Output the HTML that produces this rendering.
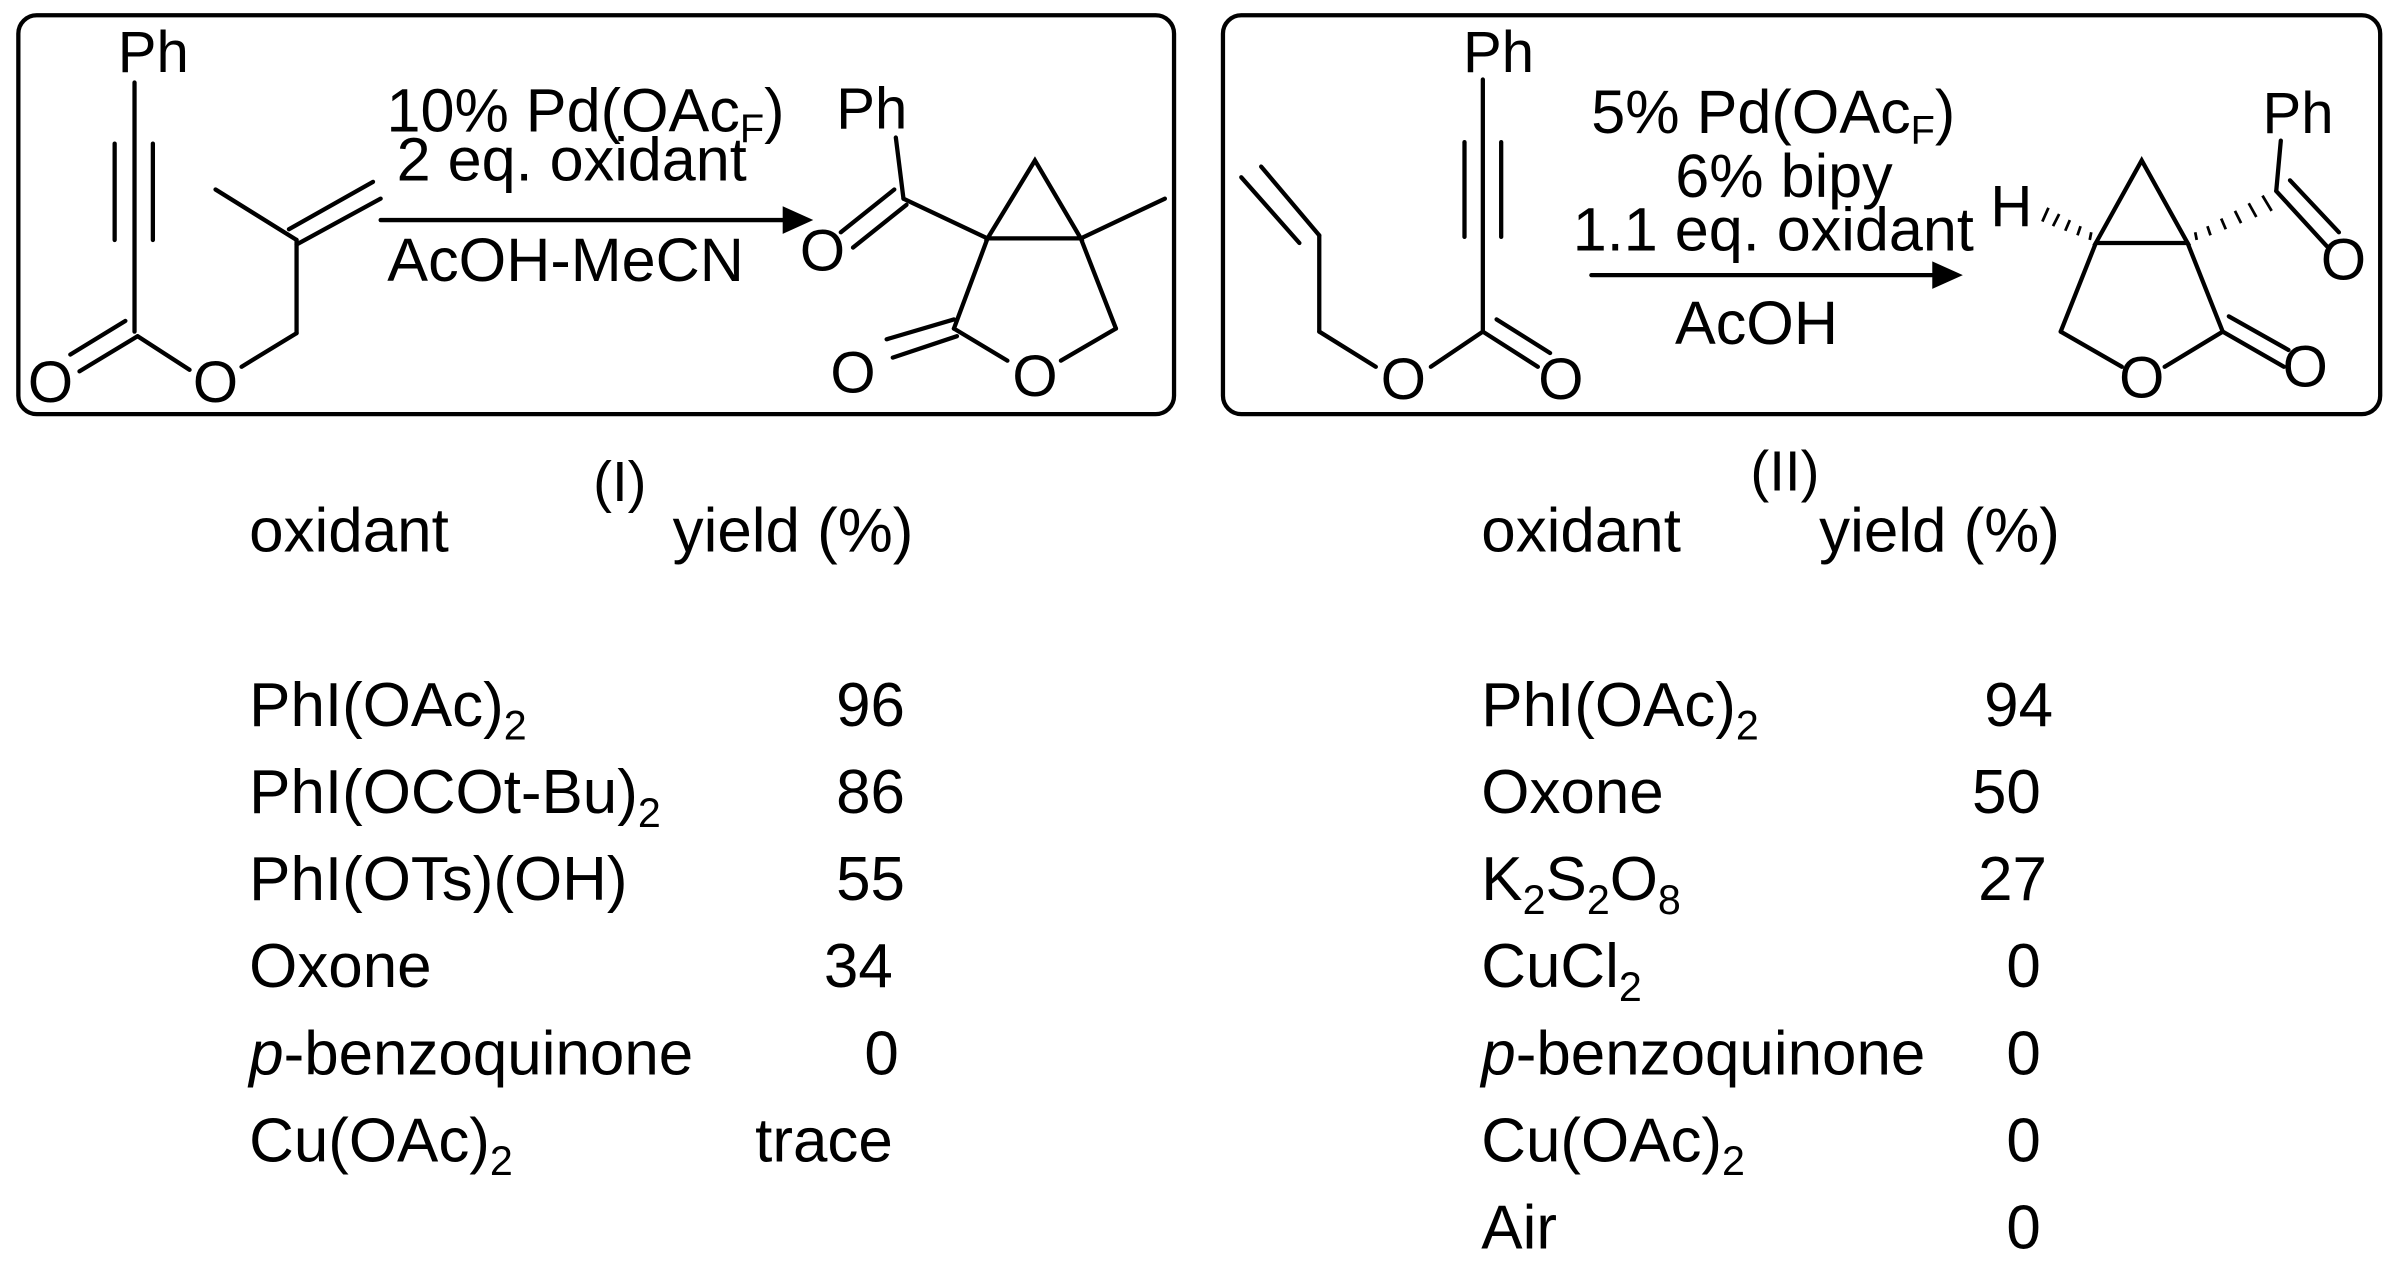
<!DOCTYPE html>
<html><head><meta charset="utf-8"><style>
html,body{margin:0;padding:0;background:#fff;}
svg{display:block;}
text{font-family:"Liberation Sans",Arial,sans-serif;fill:#000;}
</style></head><body>
<svg width="2397" height="1273" viewBox="0 0 1568 833" preserveAspectRatio="none" xmlns="http://www.w3.org/2000/svg">
<g fill="none" stroke="#000" stroke-width="2.8" stroke-linecap="round">
<rect x="12" y="10" width="756" height="261" rx="12"/>
<rect x="800" y="10" width="757" height="261" rx="12"/>
<!-- Left reactant -->
<line x1="88" y1="54" x2="88" y2="217"/>
<line x1="75" y1="94" x2="75" y2="157"/>
<line x1="100" y1="94" x2="100" y2="157"/>
<line x1="90" y1="220" x2="52" y2="243"/>
<line x1="82" y1="210" x2="46" y2="232"/>
<line x1="90" y1="220" x2="124" y2="242"/>
<line x1="158" y1="240" x2="194" y2="218"/>
<line x1="194" y1="218" x2="194" y2="157"/>
<line x1="194" y1="157" x2="141" y2="124"/>
<line x1="194" y1="160" x2="249" y2="130"/>
<line x1="189" y1="150" x2="244" y2="119"/>
<!-- arrow I -->
<line x1="249" y1="144" x2="518" y2="144"/>
<!-- Product I -->
<line x1="586" y1="90" x2="591" y2="130"/>
<line x1="591" y1="130" x2="646" y2="156"/>
<line x1="593" y1="134" x2="558" y2="162"/>
<line x1="585" y1="124" x2="550" y2="152"/>
<polygon points="646,156 677,105 707,156"/>
<line x1="707" y1="156" x2="762" y2="130"/>
<line x1="646" y1="156" x2="624" y2="215"/>
<line x1="624" y1="215" x2="659" y2="236"/>
<line x1="694" y1="236" x2="730" y2="215"/>
<line x1="730" y1="215" x2="707" y2="156"/>
<line x1="624" y1="209" x2="580" y2="222"/>
<line x1="626" y1="220" x2="584" y2="234"/>
<!-- Right reactant -->
<line x1="812" y1="116" x2="850" y2="159"/>
<line x1="825" y1="109" x2="863" y2="154"/>
<line x1="863" y1="154" x2="863" y2="217"/>
<line x1="863" y1="217" x2="900" y2="240"/>
<line x1="936" y1="240" x2="970" y2="217"/>
<line x1="970" y1="52" x2="970" y2="217"/>
<line x1="958" y1="93" x2="958" y2="155"/>
<line x1="982" y1="93" x2="982" y2="155"/>
<line x1="970" y1="217" x2="1006" y2="240"/>
<line x1="979" y1="209" x2="1014" y2="231"/>
<!-- arrow II -->
<line x1="1041" y1="180" x2="1268" y2="180"/>
<!-- Product II -->
<polygon points="1371,159 1401,105 1431,159"/>
<line x1="1371" y1="159" x2="1348" y2="217"/>
<line x1="1348" y1="217" x2="1388" y2="240"/>
<line x1="1416" y1="240" x2="1454" y2="217"/>
<line x1="1454" y1="217" x2="1431" y2="159"/>
<line x1="1454" y1="217" x2="1494" y2="240"/>
<line x1="1458" y1="207" x2="1497" y2="229"/>
<line x1="1489" y1="125" x2="1492" y2="92"/>
<line x1="1489" y1="125" x2="1522" y2="161"/>
<line x1="1498" y1="118" x2="1530" y2="152"/>
</g>
<g stroke="#000" stroke-width="1.8">
<line x1="1368" y1="152" x2="1367" y2="157"/>
<line x1="1361" y1="148" x2="1359" y2="154"/>
<line x1="1354" y1="144" x2="1351" y2="151"/>
<line x1="1347" y1="140" x2="1343" y2="148"/>
<line x1="1340" y1="136" x2="1336" y2="145"/>
<line x1="1436" y1="152" x2="1437" y2="157"/>
<line x1="1444" y1="148" x2="1446" y2="154"/>
<line x1="1453" y1="143" x2="1456" y2="150"/>
<line x1="1462" y1="138" x2="1466" y2="146"/>
<line x1="1471" y1="133" x2="1476" y2="142"/>
<line x1="1480" y1="128" x2="1486" y2="138"/>
</g>
<polygon points="512,135 532,144 512,153" fill="#000"/>
<polygon points="1264,171 1284,180 1264,189" fill="#000"/>
<g font-size="38">
<text x="77" y="47">Ph</text>
<text x="33" y="263" text-anchor="middle">O</text>
<text x="141" y="263" text-anchor="middle">O</text>
<text x="547" y="84">Ph</text>
<text x="538" y="177" text-anchor="middle">O</text>
<text x="558" y="257" text-anchor="middle">O</text>
<text x="677" y="259" text-anchor="middle">O</text>
<text x="957" y="47">Ph</text>
<text x="918" y="261" text-anchor="middle">O</text>
<text x="1021" y="261" text-anchor="middle">O</text>
<text x="1302" y="148">H</text>
<text x="1480" y="87">Ph</text>
<text x="1533" y="183" text-anchor="middle">O</text>
<text x="1401" y="260" text-anchor="middle">O</text>
<text x="1508" y="253" text-anchor="middle">O</text>
</g>
<g font-size="40" text-anchor="middle">
<text x="383" y="86">10% Pd(OAc<tspan font-size="26" dy="7">F</tspan><tspan dy="-7">)</tspan></text>
<text x="374" y="118">2 eq. oxidant</text>
<text x="370" y="184">AcOH-MeCN</text>
<text x="1160" y="87">5% Pd(OAc<tspan font-size="26" dy="7">F</tspan><tspan dy="-7">)</tspan></text>
<text x="1167" y="129">6% bipy</text>
<text x="1160" y="164">1.1 eq. oxidant</text>
<text x="1149" y="225">AcOH</text>
</g>
<g font-size="40.5">
<text x="388" y="328" font-size="37">(I)</text>
<text x="163" y="361">oxidant</text>
<text x="440" y="361">yield (%)</text>
<text x="163" y="475">PhI(OAc)<tspan font-size="27" dy="9">2</tspan></text>
<text x="163" y="532">PhI(OCOt-Bu)<tspan font-size="27" dy="9">2</tspan></text>
<text x="163" y="589">PhI(OTs)(OH)</text>
<text x="163" y="646">Oxone</text>
<text x="163" y="703"><tspan font-style="italic">p</tspan>-benzoquinone</text>
<text x="163" y="760">Cu(OAc)<tspan font-size="27" dy="9">2</tspan></text>
<g text-anchor="end">
<text x="592" y="475">96</text>
<text x="592" y="532">86</text>
<text x="592" y="589">55</text>
<text x="584" y="646">34</text>
<text x="588" y="703">0</text>
<text x="584" y="760">trace</text>
</g>
<text x="1145" y="321" font-size="37">(II)</text>
<text x="969" y="361">oxidant</text>
<text x="1190" y="361">yield (%)</text>
<text x="969" y="475">PhI(OAc)<tspan font-size="27" dy="9">2</tspan></text>
<text x="969" y="532">Oxone</text>
<text x="969" y="589">K<tspan font-size="27" dy="9">2</tspan><tspan dy="-9">S</tspan><tspan font-size="27" dy="9">2</tspan><tspan dy="-9">O</tspan><tspan font-size="27" dy="9">8</tspan></text>
<text x="969" y="646">CuCl<tspan font-size="27" dy="9">2</tspan></text>
<text x="969" y="703"><tspan font-style="italic">p</tspan>-benzoquinone</text>
<text x="969" y="760">Cu(OAc)<tspan font-size="27" dy="9">2</tspan></text>
<text x="969" y="817">Air</text>
<g text-anchor="end">
<text x="1343" y="475">94</text>
<text x="1335" y="532">50</text>
<text x="1339" y="589">27</text>
<text x="1335" y="646">0</text>
<text x="1335" y="703">0</text>
<text x="1335" y="760">0</text>
<text x="1335" y="817">0</text>
</g>
</g>
</svg>
</body></html>
